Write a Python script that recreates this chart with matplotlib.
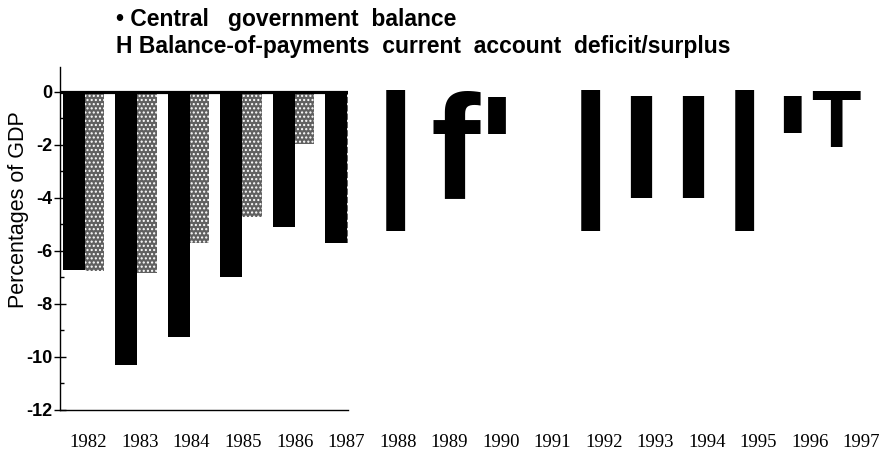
import matplotlib
matplotlib.use("Agg")
import matplotlib.pyplot as plt
import numpy as np

# ---- data ----
years_left = [1982, 1983, 1984, 1985, 1986, 1987]
central_gov = [-6.72, -10.3, -9.25, -6.98, -5.08, -5.7]
bop_current = [-6.75, -6.85, -5.7, -4.72, -1.97, -5.7]
all_years = [str(y) for y in range(1982, 1998)]
ytick_vals = [0, -2, -4, -6, -8, -10, -12]
ytick_labels = ["0", "-2", "-4", "-6", "-8", "-10", "-12"]
legend_lines = ["\u2022 Central   government  balance",
                "H Balance-of-payments  current  account  deficit/surplus"]
ylabel = "Percentages of GDP"
# scanned residue glyphs to the right of the panel
glyphs_big = ["|", "f'", "|", "I", "I", "|", "'"]
glyph_small = "T"

W, H = 884, 451
fig = plt.figure(figsize=(W / 100, H / 100), dpi=100)

def fx(px):
    return px / W

def fy(py):
    return 1 - py / H

ax = fig.add_axes([fx(60), fy(410), fx(348) - fx(60), fy(67) - fy(410)])
x = np.arange(len(years_left))
ax.bar(x, central_gov, width=0.42, align="edge", color="black", linewidth=0, zorder=2)
ax.bar(x + 0.42, bop_current, width=0.37, align="edge", color="#606060",
       hatch="....", edgecolor="white", linewidth=0, zorder=2)
ax.axhline(0, color="black", lw=2.3, zorder=3)
ax.set_xlim(-0.057, 5.44)
ax.set_ylim(-12, 0.94)
ax.set_xticks([])
ax.set_yticks(ytick_vals)
ax.set_yticklabels(ytick_labels, fontfamily="Liberation Sans", fontweight="bold", fontsize=13)
ax.set_yticks(np.arange(-11, 0, 2), minor=True)
ax.tick_params(axis="y", which="major", direction="inout", length=9, width=1, pad=1)
ax.tick_params(axis="y", which="minor", direction="in", length=3, width=1)
for s in ["top", "right"]:
    ax.spines[s].set_visible(False)
ax.spines["left"].set_linewidth(1)
ax.spines["bottom"].set_linewidth(1)

fig.text(fx(19), fy(210), ylabel, rotation=90, ha="center", va="center",
         fontfamily="Liberation Sans", fontsize=15.5)

for i, line in enumerate(legend_lines):
    fig.text(fx(116), fy(26 + 26.5 * i), line, ha="left", va="baseline",
             fontfamily="Liberation Sans", fontweight="bold", fontsize=16.5)

for k, yr in enumerate(all_years):
    fig.text(fx(88.5 + 51.53 * k), fy(447), yr, ha="center", va="baseline",
             fontfamily="Liberation Serif", fontsize=13.5)

glyph_centers = [395, 473, 590, 641, 693, 744, 792]
for g, cx in zip(glyphs_big, glyph_centers):
    fig.text(fx(cx), fy(198), g, ha="center", va="baseline",
             fontfamily="Liberation Sans", fontweight="bold", fontsize=106.6)
fig.text(fx(835.5), fy(147), glyph_small, ha="center", va="baseline",
         fontfamily="Liberation Sans", fontweight="bold", fontsize=58.3)

fig.savefig("out.png", dpi=100)
